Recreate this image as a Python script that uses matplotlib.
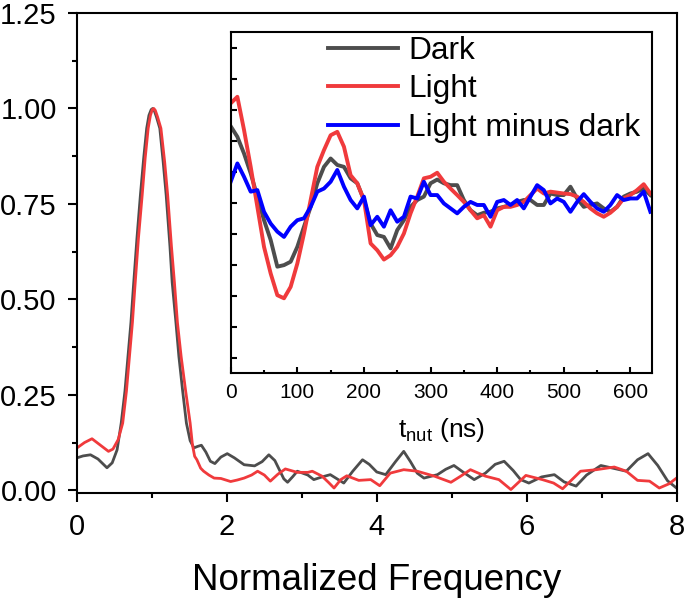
import matplotlib
matplotlib.use('Agg')
import matplotlib.pyplot as plt
import numpy as np

plt.rcParams['font.family'] = ['Liberation Sans', 'DejaVu Sans']
plt.rcParams['mathtext.default'] = 'regular'

# main panel: normalized frequency spectra
freq_dark = [0.00, 0.08, 0.18, 0.28, 0.40, 0.47, 0.535, 0.59, 0.64, 0.68, 0.72, 0.75, 0.80, 0.846, 0.89, 0.93,
             0.96, 0.99, 1.01, 1.03, 1.06, 1.105, 1.15, 1.19, 1.24, 1.27, 1.32, 1.36, 1.41, 1.46, 1.51, 1.56, 1.61, 1.66,
             1.72, 1.78, 1.84, 1.92, 2.005, 2.10, 2.23, 2.37, 2.47, 2.56, 2.64, 2.70, 2.76, 2.81, 2.88, 2.94,
             3.08, 3.16, 3.27, 3.38, 3.47, 3.56, 3.68, 3.81, 3.90, 4.00, 4.12, 4.25, 4.36, 4.45, 4.54, 4.63,
             4.81, 4.92, 5.03, 5.15, 5.30, 5.45, 5.58, 5.70, 5.82, 5.92, 6.03, 6.20, 6.37, 6.50, 6.66, 6.80,
             6.99, 7.15, 7.33, 7.48, 7.62, 7.75, 7.88, 8.00]
amp_dark = [0.085, 0.090, 0.093, 0.082, 0.059, 0.072, 0.106, 0.176, 0.26, 0.350, 0.44, 0.525, 0.66, 0.773, 0.87, 0.948,
            0.982, 0.997, 1.0, 0.995, 0.978, 0.948, 0.86, 0.773, 0.64, 0.545, 0.44, 0.350, 0.26, 0.176, 0.13, 0.111, 0.115, 0.118,
            0.10, 0.076, 0.070, 0.087, 0.096, 0.085, 0.067, 0.064, 0.075, 0.093, 0.078, 0.054, 0.030, 0.021, 0.036, 0.050,
            0.040, 0.028, 0.035, 0.041, 0.030, 0.019, 0.05, 0.080, 0.068, 0.048, 0.041, 0.075, 0.102, 0.075, 0.045, 0.032,
            0.041, 0.055, 0.065, 0.048, 0.028, 0.045, 0.068, 0.076, 0.052, 0.028, 0.019, 0.035, 0.041, 0.022, 0.011, 0.040,
            0.065, 0.058, 0.05, 0.080, 0.096, 0.065, 0.025, 0.006]

freq_light = [0.00, 0.10, 0.20, 0.30, 0.42, 0.48, 0.55, 0.61, 0.66, 0.70, 0.74, 0.77, 0.82, 0.87, 0.91, 0.95,
              0.98, 1.005, 1.025, 1.045, 1.075, 1.12, 1.17, 1.21, 1.26, 1.30, 1.34, 1.39, 1.45, 1.51, 1.54, 1.57, 1.60, 1.65,
              1.69, 1.76, 1.83, 1.92, 2.05, 2.14, 2.23, 2.33, 2.41, 2.50, 2.58, 2.68, 2.78, 2.94, 3.08, 3.14,
              3.27, 3.36, 3.43, 3.52, 3.60, 3.76, 3.92, 4.04, 4.18, 4.36, 4.54, 4.77, 4.99, 5.12, 5.25, 5.45,
              5.63, 5.79, 5.99, 6.21, 6.36, 6.48, 6.72, 6.93, 7.17, 7.33, 7.48, 7.64, 7.77, 7.90, 8.00]
amp_light = [0.111, 0.125, 0.135, 0.120, 0.102, 0.108, 0.133, 0.176, 0.26, 0.350, 0.44, 0.525, 0.66, 0.773, 0.87, 0.948,
             0.982, 0.997, 1.0, 0.995, 0.978, 0.948, 0.86, 0.773, 0.64, 0.545, 0.44, 0.350, 0.26, 0.176, 0.12, 0.089, 0.080, 0.058,
             0.050, 0.040, 0.032, 0.031, 0.023, 0.027, 0.032, 0.040, 0.050, 0.040, 0.024, 0.042, 0.056, 0.047, 0.047, 0.050,
             0.037, 0.020, 0.006, 0.028, 0.038, 0.026, 0.028, 0.012, 0.045, 0.054, 0.050, 0.037, 0.021, 0.037, 0.054, 0.037,
             0.028, 0.002, 0.039, 0.028, 0.019, 0.004, 0.050, 0.054, 0.061, 0.050, 0.026, 0.024, 0.006, 0.017, 0.032]

# inset: nutation traces, one point every 10 ns
t_nut = np.arange(0, 640, 10)
nut_dark = [0.749, 0.715, 0.661, 0.597, 0.522, 0.446, 0.382, 0.296, 0.301, 0.312, 0.360, 0.425, 0.489, 0.565, 0.618, 0.645,
            0.624, 0.618, 0.581, 0.565, 0.511, 0.435, 0.398, 0.392, 0.355, 0.414, 0.446, 0.489, 0.511, 0.522, 0.565, 0.577,
            0.565, 0.559, 0.559, 0.511, 0.478, 0.462, 0.470, 0.473, 0.484, 0.489, 0.495, 0.505, 0.511, 0.511, 0.495, 0.495,
            0.532, 0.527, 0.527, 0.554, 0.516, 0.489, 0.495, 0.500, 0.484, 0.473, 0.489, 0.522, 0.532, 0.538, 0.548, 0.527]
nut_light = [0.823, 0.844, 0.737, 0.618, 0.489, 0.360, 0.274, 0.204, 0.194, 0.231, 0.306, 0.403, 0.511, 0.618, 0.672, 0.720,
             0.731, 0.683, 0.591, 0.565, 0.511, 0.371, 0.349, 0.319, 0.333, 0.360, 0.403, 0.468, 0.522, 0.581, 0.586, 0.599,
             0.570, 0.548, 0.527, 0.505, 0.478, 0.452, 0.462, 0.425, 0.478, 0.489, 0.489, 0.495, 0.505, 0.527, 0.548, 0.532,
             0.538, 0.535, 0.532, 0.530, 0.522, 0.505, 0.484, 0.468, 0.457, 0.470, 0.489, 0.516, 0.527, 0.543, 0.562, 0.532]
nut_diff = [0.570, 0.629, 0.586, 0.538, 0.543, 0.473, 0.435, 0.409, 0.392, 0.425, 0.446, 0.452, 0.489, 0.538, 0.548, 0.570,
            0.608, 0.554, 0.511, 0.484, 0.522, 0.430, 0.457, 0.425, 0.478, 0.441, 0.457, 0.522, 0.516, 0.570, 0.527, 0.527,
            0.500, 0.484, 0.468, 0.489, 0.505, 0.495, 0.495, 0.457, 0.505, 0.511, 0.495, 0.511, 0.484, 0.522, 0.559, 0.543,
            0.500, 0.516, 0.505, 0.473, 0.505, 0.530, 0.505, 0.484, 0.473, 0.495, 0.527, 0.511, 0.516, 0.516, 0.538, 0.473]

gray = '#4d4d4d'
red = '#f03a3c'
blue = '#0000ff'

fig = plt.figure(figsize=(6.85, 6.02), dpi=100)
ax = fig.add_axes([0.1124, 0.1811, 0.8752, 0.7973])
ax.plot(freq_dark, amp_dark, color=gray, lw=2.0)
ax.plot(freq_light, amp_light, color=red, lw=2.0)
ax.set_xlim(0, 8)
ax.set_ylim(-0.007, 1.25)
ax.set_xticks([0, 2, 4, 6, 8])
ax.set_xticks([1, 3, 5, 7], minor=True)
ax.set_yticks([0, 0.25, 0.5, 0.75, 1.0, 1.25])
ax.set_yticks([0.125, 0.375, 0.625, 0.875, 1.125], minor=True)
ax.set_yticklabels(['0.00', '0.25', '0.50', '0.75', '1.00', '1.25'])
ax.tick_params(which='major', direction='out', length=6.5, width=1.5, labelsize=21, pad=8)
ax.tick_params(which='minor', direction='out', length=3.5, width=1.5)
ax.set_xlabel('Normalized Frequency', fontsize=26.5, labelpad=16)
for s in ax.spines.values():
    s.set_linewidth(1.5)

ins = fig.add_axes([0.3368, 0.3799, 0.6146, 0.5664])
ins.plot(t_nut, nut_dark, color=gray, lw=2.8, label='Dark')
ins.plot(t_nut, nut_light, color=red, lw=2.8, label='Light')
ins.plot(t_nut, nut_diff, color=blue, lw=2.8, label='Light minus dark')
ins.set_xlim(0, 632)
ins.set_ylim(-0.048, 1.052)
ins.set_xticks([0, 100, 200, 300, 400, 500, 600])
ins.set_xticks([50, 150, 250, 350, 450, 550], minor=True)
ins.set_yticks(np.arange(0, 1.01, 0.1))
ins.set_yticklabels([])
ins.tick_params(which='major', direction='in', length=4, width=1.5, labelsize=15, pad=7)
ins.tick_params(which='minor', direction='in', length=2.5, width=1.5)
ins.set_xlabel(r'$t_{nut}$ (ns)', fontsize=19, labelpad=10)
for s in ins.spines.values():
    s.set_linewidth(1.5)
ins.legend(loc='upper left', bbox_to_anchor=(0.232, 0.99), frameon=False, fontsize=22.8,
           handlelength=2.2, handletextpad=0.32, labelspacing=0.27, borderpad=0, borderaxespad=0)

fig.savefig('out.png', dpi=100)
